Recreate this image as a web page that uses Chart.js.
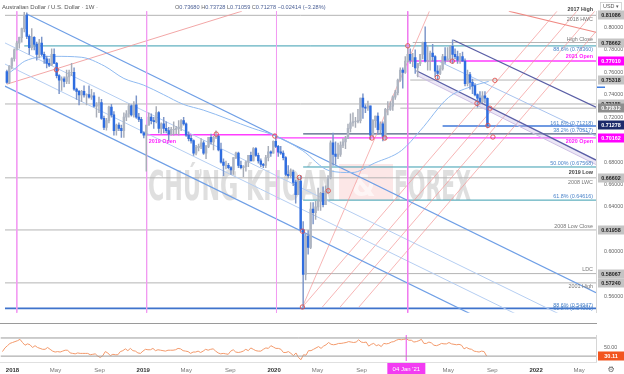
<!DOCTYPE html>
<html><head><meta charset="utf-8">
<script src="https://cdn.jsdelivr.net/npm/chart.js@4.4.1/dist/chart.umd.min.js"></script>
<style>
html,body{margin:0;padding:0;background:#fff;}
body{width:624px;height:374px;overflow:hidden;position:relative;}
#w1{position:absolute;left:0;top:0;width:624px;height:324px;}
#w2{position:absolute;left:0;top:324px;width:624px;height:50px;}
</style></head><body>
<div id="w1"><canvas id="c1"></canvas></div>
<div id="w2"><canvas id="c2"></canvas></div>
<script>
// ---------------- DATA ----------------
const firstWeek = '2017-12-04';
const open = [.7605,.7510,.7655,.7722,.7800,.7860,.7910,.7990,.8109,.7920,.7820,.7910,.7850,.7760,.7860,.7760,.7720,.7680,.7665,.7760,.7680,.7570,.7530,.7540,.7520,.7560,.7600,.7600,.7450,.7430,.7400,.7430,.7400,.7400,.7380,.7390,.7300,.7310,.7330,.7190,.7110,.7170,.7290,.7220,.7080,.7130,.7100,.7080,.7200,.7230,.7300,.7220,.7310,.7200,.7180,.7060,.7040,.7130,.7200,.7170,.7160,.7240,.7100,.7140,.7100,.7080,.7050,.7090,.7090,.7100,.7110,.7170,.7140,.7040,.7010,.6990,.6880,.6930,.6940,.6970,.6880,.6940,.7020,.6980,.7020,.7030,.6910,.6800,.6770,.6770,.6750,.6730,.6840,.6880,.6770,.6750,.6760,.6800,.6860,.6810,.6920,.6860,.6810,.6780,.6770,.6840,.6890,.6880,.6985,.6940,.6890,.6880,.6840,.6690,.6680,.6710,.6620,.6510,.6630,.6200,.5800,.6140,.6040,.6380,.6350,.6400,.6450,.6520,.6420,.6540,.6660,.6970,.6870,.6850,.6870,.6950,.6980,.7010,.7100,.7150,.7160,.7160,.7170,.7370,.7290,.7280,.7300,.7040,.7170,.7210,.7090,.7140,.7030,.7270,.7270,.7300,.7380,.7420,.7530,.7620,.7600,.7700,.7760,.7710,.7730,.7640,.7680,.7760,.7866,.7700,.7700,.7770,.7740,.7610,.7590,.7630,.7740,.7710,.7720,.7830,.7760,.7740,.7710,.7740,.7700,.7500,.7580,.7510,.7480,.7400,.7370,.7340,.7390,.7368];
const high = [.7620,.7660,.7730,.7810,.7880,.7915,.7995,.8136,.8130,.7935,.7990,.7920,.7870,.7895,.7915,.7780,.7745,.7720,.7810,.7810,.7690,.7580,.7560,.7560,.7620,.7620,.7680,.7640,.7460,.7440,.7440,.7480,.7410,.7480,.7450,.7420,.7330,.7380,.7360,.7210,.7190,.7300,.7315,.7250,.7140,.7150,.7130,.7240,.7260,.7320,.7310,.7340,.7390,.7235,.7200,.7070,.7060,.7240,.7230,.7200,.7295,.7250,.7150,.7200,.7160,.7110,.7110,.7160,.7120,.7170,.7180,.7200,.7150,.7070,.7040,.7000,.6950,.6960,.7010,.6990,.6950,.7020,.7050,.7030,.7080,.7040,.6970,.6830,.6810,.6790,.6760,.6840,.6890,.6890,.6810,.6770,.6810,.6860,.6890,.6930,.6930,.6880,.6830,.6790,.6860,.6940,.6900,.6990,.7032,.6950,.6940,.6900,.6850,.6770,.6740,.6730,.6640,.6660,.6680,.6270,.6160,.6190,.6440,.6440,.6450,.6570,.6530,.6580,.6590,.6680,.6990,.7060,.6980,.6970,.6980,.7010,.7030,.7140,.7230,.7240,.7200,.7270,.7370,.7410,.7310,.7345,.7300,.7180,.7210,.7240,.7160,.7160,.7280,.7340,.7340,.7390,.7440,.7540,.7640,.7640,.7740,.7820,.7810,.7770,.7800,.7680,.7760,.7870,.8007,.7840,.7790,.7850,.7750,.7660,.7660,.7760,.7820,.7820,.7840,.7891,.7810,.7790,.7770,.7780,.7720,.7620,.7600,.7540,.7500,.7410,.7430,.7430,.7430,.73728];
const low = [.7501,.7500,.7630,.7700,.7800,.7815,.7870,.7960,.7900,.7760,.7800,.7800,.7710,.7730,.7750,.7680,.7640,.7650,.7660,.7680,.7550,.7410,.7440,.7470,.7500,.7500,.7570,.7440,.7360,.7310,.7340,.7380,.7310,.7370,.7360,.7290,.7200,.7240,.7180,.7090,.7085,.7150,.7200,.7040,.7040,.7080,.7020,.7020,.7170,.7200,.7210,.7200,.7190,.7160,.7060,.7015,.6720,.7130,.7140,.7100,.7150,.7060,.7050,.7060,.7060,.6990,.7040,.7040,.7050,.7040,.7080,.7130,.7030,.6990,.6970,.6860,.6865,.6900,.6920,.6870,.6830,.6930,.6960,.6910,.7010,.6900,.6790,.6680,.6740,.6740,.6690,.6690,.6830,.6750,.6740,.6670,.6720,.6760,.6810,.6810,.6850,.6790,.6760,.6750,.6750,.6810,.6850,.6880,.6930,.6850,.6870,.6820,.6680,.6660,.6660,.6590,.6435,.6510,.6210,.5506,.5750,.5980,.6030,.6250,.6290,.6370,.6370,.6400,.6420,.6520,.6650,.6770,.6780,.6830,.6850,.6930,.6920,.7010,.7070,.7120,.7110,.7150,.7150,.7190,.7240,.7260,.7000,.7030,.7110,.7050,.7060,.6990,.7000,.7220,.7260,.7260,.7360,.7400,.7520,.7460,.7590,.7690,.7680,.7650,.7590,.7560,.7660,.7720,.7690,.7620,.7620,.7700,.7560,.7530,.7580,.7620,.7680,.7700,.7690,.7680,.7720,.7680,.7680,.7700,.7480,.7480,.7450,.7410,.7390,.7290,.7320,.7330,.7330,.71059];
const close = [.7510,.7655,.7722,.7800,.7860,.7910,.7990,.8109,.7920,.7820,.7910,.7850,.7760,.7860,.7760,.7720,.7680,.7665,.7760,.7680,.7570,.7530,.7540,.7520,.7560,.7600,.7600,.7450,.7430,.7400,.7430,.7400,.7400,.7380,.7390,.7300,.7310,.7330,.7190,.7110,.7170,.7290,.7220,.7080,.7130,.7100,.7080,.7200,.7230,.7300,.7220,.7310,.7200,.7180,.7060,.7040,.7130,.7200,.7170,.7160,.7240,.7100,.7140,.7100,.7080,.7050,.7090,.7090,.7100,.7110,.7170,.7140,.7040,.7010,.6990,.6880,.6930,.6940,.6970,.6880,.6940,.7020,.6980,.7020,.7030,.6910,.6800,.6770,.6770,.6750,.6730,.6840,.6880,.6770,.6750,.6760,.6800,.6860,.6810,.6920,.6860,.6810,.6780,.6770,.6840,.6890,.6880,.6985,.6940,.6890,.6880,.6840,.6690,.6680,.6710,.6620,.6510,.6630,.6200,.5800,.6140,.6040,.6380,.6350,.6400,.6450,.6520,.6420,.6540,.6660,.6970,.6870,.6850,.6870,.6950,.6980,.7010,.7100,.7150,.7160,.7160,.7170,.7370,.7290,.7280,.7300,.7040,.7170,.7210,.7090,.7140,.7030,.7270,.7270,.7300,.7380,.7420,.7530,.7620,.7600,.7700,.7760,.7710,.7730,.7640,.7680,.7760,.7866,.7700,.7700,.7770,.7740,.7610,.7590,.7630,.7740,.7710,.7720,.7830,.7760,.7740,.7710,.7740,.7700,.7500,.7580,.7510,.7480,.7400,.7370,.7340,.7390,.7370,.71278];
const rsi = [40,48,53,58,60,62,64,67,60,54, 57,55,49,53,49,47,45,45,49,45, 41,39,40,39,41,43,43,37,36,35, 37,36,36,36,36,33,34,35,30,27, 31,40,37,31,34,33,33,40,42,46, 42,47,42,41,37,36,41,45,44,44, 47,42,44,43,42,41,43,43,43,44, 47,46,42,41,40,36,39,39,41,38, 41,45,43,45,46,41,37,35,36,35, 34,41,44,39,38,39,41,45,42,48, 45,42,41,41,45,48,47,53,50,47, 47,45,38,38,40,36,31,37,27,22, 33,32,42,42,45,48,51,47,52,55, 60,56,55,56,58,58,59,60,62,61, 60,61,66,61,60,61,52,56,58,53, 55,51,58,57,58,61,62,65,67,66, 67,68,65,65,61,62,64,67,58,58, 61,59,54,53,55,58,57,57,60,57, 56,55,56,54,46,49,46,45,41,40, 39,41,40,30.11];

const priceTicks = [0.56,0.58,0.60,0.62,0.64,0.66,0.68,0.70,0.72,0.74,0.76,0.78,0.80];
const tickDates = ['2018-01-01','2018-05-01','2018-09-01','2019-01-01','2019-05-01','2019-09-01','2020-01-01','2020-05-01','2020-09-01','2021-05-01','2021-09-01','2022-01-01','2022-05-01'];
const tickLabels = ['2018','May','Sep','2019','May','Sep','2020','May','Sep','May','Sep','2022','May'];
const crossDate = '2021-01-04', crossLabel = "04 Jan '21";

// horizontal levels: price, start date, end date (null = to the right edge)
const levelPrice = [0.81086,0.78662,0.78360,0.77010,0.75318,0.73185,0.72812,0.71218,0.70517,0.70440,0.70162,0.67568,0.66602,0.64616,0.61958,0.58067,0.57240,0.54970];
const levelFrom  = ['2017-11-01','2021-01-18','2018-01-22','2021-01-04','2021-01-11','2017-11-01','2020-12-14','2021-04-12','2020-03-16','2019-01-01','2020-01-01','2020-03-16','2017-11-01','2020-03-16','2017-11-01','2020-03-16','2017-11-01','2017-11-01'];
const levelTo    = [null,null,null,null,null,null,null,null,null,'2020-01-01',null,null,null,null,null,null,null,null];
const levelKind  = ['g','g','t','m','g','g','g','b','s','m','m','t','g','t','g','g','g','b2'];

// right-side notes: text and price anchor
const noteText  = ['2017 High','2018 HWC','High Close','88.6% (0.78360)','2021 Open','161.8% (0.71218)','38.2% (0.70517)','2020 Open','50.00% (0.67568)','2019 Low','2008 LWC','61.8% (0.64616)','2008 Low Close','LDC','2001 High','88.6% (0.54947)','61.8% (0.54991)'];
const notePrice = [0.8163,0.80685,0.78973,0.78031,0.77432,0.71438,0.70839,0.69812,0.67842,0.67072,0.66216,0.64932,0.62277,0.58425,0.56884,0.55257,0.54914];
const noteKind  = ['d','g','g','f','m','f','f','m','f','d','g','f','g','g','g','f','f'];
const openNote = ['2019 Open', '2019-01-07', 0.69812];

// axis price boxes
const boxPrice = [0.81086,0.78662,0.77010,0.75318,0.73185,0.72812,0.71278,0.70162,0.66602,0.61958,0.58067,0.57240];
const boxKind  = ['g','g','m','g','g','dg','n','m','g','g','g','g'];
const rsiLast = 30.11;

// trend lines: [week1, price1, week2, price2]
const channel2018 = [[7.98,.81199,236.6,.56370],[-0.78,.78630,236.6,.52860],[-0.78,.76747,236.6,.50976],[-0.78,.74777,236.6,.49007]];
const channel2018Kind = ['o','i','i','o'];
const riseLine2017 = [0,.74949,94.4,.81455];
const channel2021 = [[179.3,.78887,236.6,.72894],[173.3,.77003,236.6,.70325],[164.5,.76147,236.6,.68185]];
const band2021 = [164.5,.75747,236.6,.67785];
const redTop = [201.6,.81455,236.6,.79572];
const rise2020 = [[118.7,.5509,220.96,.81455],[126.7,.5509,228.9,.81455],[133.85,.5509,236.1,.81455],[141.4,.5509,236.6,.7964],[118.7,.5509,169.7,.81455]];

// moving average
const maWeek  = [0,3.2,7.2,19.1,29.9,39.1,47,55,63,70.9,78.9,98.8,108,118.7,129.5,138.6,147.8,158.5,166,177.3,186,193.5];
const maPrice = [.758,.7632,.7700,.7743,.7735,.7658,.7546,.7486,.7401,.7315,.7264,.7101,.7033,.6904,.6724,.6707,.6793,.6904,.7080,.7375,.7470,.7520];

// pivot circles
const pivW = [19.9,84.1,107.6,117.5,118.7,118.7,129.1,146.6,151.8,161,178.9,172.9,196,188.8,194,193.2,195.2];
const pivP = [.7623,.7050,.7033,.6664,.6185,.5509,.6545,.7015,.7015,.7837,.7700,.7555,.7529,.7324,.7281,.7127,.7024];

const vLines = ['2018-01-01','2019-01-01','2020-01-01'];

// ---------------- HELPERS ----------------
const t0 = Date.parse(firstWeek+'T00:00:00Z');
const wk = d => (Date.parse(d+'T00:00:00Z') - t0) / (7*86400000);
const XMIN = -0.78, XMAX = 236.6;
const FONT = "'Liberation Sans', Arial, sans-serif";

const up = close.map((c,i)=> c >= open[i]);
const BLUE = '#2f6de0', GREYC = '#aeb5c2';

function seg(a, color, width, order, extra){
  return Object.assign({type:'line', data:[{x:a[0],y:a[1]},{x:a[2],y:a[3]}], borderColor:color, borderWidth:width, pointRadius:0, fill:false, tension:0, order:order}, extra||{});
}
const levelStyle = {g:['#b4b4b4',1],t:['#3a9db0',1],m:['#ff3cff',1.4],b:['#3f78d8',1.4],s:['#4d5f82',1.4],b2:['#3f73cc',1.6]};

const ds = [];
levelPrice.forEach((p,i)=>{
  const st = levelStyle[levelKind[i]];
  const x1 = Math.max(XMIN, wk(levelFrom[i]));
  const x2 = levelTo[i] ? wk(levelTo[i]) : XMAX;
  ds.push(seg([x1,p,x2,p], st[0], st[1], 30));
});
channel2018.forEach((a,i)=> ds.push(seg(a, channel2018Kind[i]==='o' ? '#6f9fe6' : '#b5cef2', channel2018Kind[i]==='o'?1.2:1, 29)));
ds.push(seg(riseLine2017, 'rgba(240,150,150,0.85)', 1, 29));
ds.push(seg(redTop, '#f08a84', 1.1, 29));
rise2020.forEach(a=> ds.push(seg(a, 'rgba(244,150,150,0.7)', 1, 29)));
ds.push(seg(channel2021[0], '#5a5fa6', 1.3, 28));
ds.push(seg(channel2021[1], '#a9c3ee', 1, 28));
ds.push(seg(channel2021[2], '#5a5fa6', 1.3, 28));
ds.push(seg(band2021, '#cdbfe3', 1, 28, {fill:'-1', backgroundColor:'rgba(200,185,230,0.35)'}));
vLines.forEach(d=> ds.push(seg([wk(d),0.9,wk(d),0.4], '#f29bf2', 1, 27)));
ds.push(seg([wk(crossDate),0.9,wk(crossDate),0.4], '#f07cf0', 1, 27));
ds.push({type:'line', data: maWeek.map((w,i)=>({x:w,y:maPrice[i]})), borderColor:'#8fbaf0', borderWidth:1, pointRadius:0, tension:0.4, cubicInterpolationMode:'monotone', fill:false, order:26});
// candles
ds.push({type:'bar', data: close.map((c,i)=>({x:i, y:[low[i],high[i]]})), backgroundColor: up.map(u=> u ? '#a8adb8' : '#7b95c9'), barThickness:0.8, grouped:false, order:6});
ds.push({type:'bar', data: close.map((c,i)=>({x:i, y:[Math.min(open[i],c), Math.max(open[i],c)+0.00015]})), backgroundColor: up.map(u=> u ? GREYC : BLUE), barThickness:1.8, grouped:false, order:5});
// pivots
ds.push({type:'line', showLine:false, data: pivW.map((w,i)=>({x:w,y:pivP[i]})), pointRadius:2.2, pointBorderColor:'#e0524f', pointBackgroundColor:'rgba(255,255,255,0)', pointBorderWidth:0.9, order:1});

// ---------------- PLUGINS ----------------
const mainOverlay = {
  id:'mainOverlay',
  beforeDatasetsDraw(chart){
    const ctx = chart.ctx;
    ctx.save();
    ctx.fillStyle = 'rgba(244,170,170,0.28)';
    ctx.fillRect(339,164,54,36);
    ctx.fillStyle = 'rgba(255,255,255,0.6)';
    ctx.font = "bold 30px 'DejaVu Sans Condensed', 'DejaVu Sans', sans-serif";
    ctx.fillText('&', 352, 196);
    ctx.fillStyle = 'rgba(185,185,185,0.45)';
    ctx.font = "bold 40px 'DejaVu Sans Condensed', 'DejaVu Sans', sans-serif";
    ctx.textBaseline = 'alphabetic';
    const drawFit = (t, x, w) => { const m = ctx.measureText(t).width; ctx.save(); ctx.translate(x,200); ctx.scale(w/m, 1); ctx.fillText(t,0,0); ctx.restore(); };
    drawFit('CHỨNG KHOÁN', 148, 188);
    drawFit('FOREX', 394, 77);
    ctx.restore();
  },
  afterDraw(chart){
    const ctx = chart.ctx, y = chart.scales.y, x = chart.scales.x;
    ctx.save();
    ctx.textAlign = 'right'; ctx.textBaseline = 'middle';
    const noteCol = {d:'#444',g:'#777',f:'#4a83c9',m:'#ff1fff'};
    noteText.forEach((t,i)=>{
      const k = noteKind[i];
      ctx.font = ((k==='d'||k==='m')?'bold ':'') + "5.4px " + FONT;
      ctx.fillStyle = noteCol[k];
      ctx.fillText(t, 593, y.getPixelForValue(notePrice[i]));
    });
    ctx.textAlign = 'left';
    ctx.font = "bold 5.4px " + FONT; ctx.fillStyle = '#ff1fff';
    ctx.fillText(openNote[0], x.getPixelForValue(wk(openNote[1])), y.getPixelForValue(openNote[2]));
    const boxCol = {g:['#c4c4c4','#222'],dg:['#8e8e8e','#fff'],m:['#ff00ff','#fff'],n:['#1c2a6b','#fff']};
    ctx.textAlign = 'center';
    boxPrice.forEach((p,i)=>{
      const c = boxCol[boxKind[i]];
      const py = Math.round(y.getPixelForValue(p));
      ctx.fillStyle = c[0]; ctx.fillRect(598, py-4.5, 26, 9);
      ctx.fillStyle = c[1]; ctx.font = "bold 5.4px " + FONT;
      ctx.fillText(p.toFixed(5), 611, py+0.3);
    });
    ctx.fillStyle = '#3f7de0'; ctx.fillRect(597, 86.5, 8, 1.5);
    ctx.fillStyle = '#fff'; ctx.strokeStyle = '#ccc'; ctx.lineWidth = 0.8;
    ctx.fillRect(600,2,22,9); ctx.strokeRect(600.5,2.5,21,8);
    ctx.fillStyle = '#555'; ctx.font = "5.4px " + FONT; ctx.fillText('USD ▾', 611, 6.8);
    ctx.textAlign = 'left';
    ctx.font = "6px " + FONT; ctx.fillStyle = '#555';
    ctx.fillText('Australian Dollar / U.S. Dollar · 1W ·', 2, 7);
    const parts = [['O','#666'],['0.73680','#4a5f95'],[' H','#666'],['0.73728','#4a5f95'],[' L','#666'],['0.71059','#4a5f95'],[' C','#666'],['0.71278','#4a5f95'],[' −0.02414 (−3.28%)','#4a5f95']];
    let px = 175;
    ctx.font = "5.6px " + FONT;
    parts.forEach(p=>{ ctx.fillStyle = p[1]; ctx.fillText(p[0], px, 7); px += ctx.measureText(p[0]).width; });
    ctx.fillStyle = '#9a9a9a'; ctx.fillRect(0, 323, 597, 1);
    ctx.restore();
  }
};

const rsiOverlay = {
  id:'rsiOverlay',
  afterDraw(chart){
    const ctx = chart.ctx, y = chart.scales.y, x = chart.scales.x;
    ctx.save();
    const py = Math.round(y.getPixelForValue(rsiLast));
    ctx.fillStyle = '#f2551f'; ctx.fillRect(598, py-4.5, 26, 9);
    ctx.fillStyle = '#fff'; ctx.font = "bold 5.6px " + FONT; ctx.textAlign='center'; ctx.textBaseline='middle';
    ctx.fillText(rsiLast.toFixed(2), 611, py+0.3);
    const cx = x.getPixelForValue(wk(crossDate));
    ctx.fillStyle = '#f23cf2'; ctx.fillRect(cx-19, 39, 38, 11);
    ctx.fillStyle = '#fff'; ctx.font = "6px " + FONT;
    ctx.fillText(crossLabel, cx, 45.5);
    ctx.fillStyle = '#666'; ctx.font = "8px 'DejaVu Sans', sans-serif";
    ctx.fillText('⚙', 611, 45.5);
    ctx.fillStyle = '#e0e0e0'; ctx.fillRect(0, chart.chartArea.bottom+1, 597, 1);
    ctx.restore();
  }
};

// ---------------- CHARTS ----------------
Chart.defaults.font.family = FONT;
const yFit = s => { s.width = 28; };

new Chart(document.getElementById('c1'), {
  type:'bar',
  data:{datasets: ds},
  options:{
    responsive:true, maintainAspectRatio:false, animation:false, devicePixelRatio:1,
    layout:{padding:{top:10,left:0,right:0,bottom:0}},
    plugins:{legend:{display:false}, tooltip:{enabled:false}},
    scales:{
      x:{type:'linear', min:XMIN, max:XMAX, display:false, offset:false},
      y:{position:'right', min:0.54572, max:0.81455,
         afterBuildTicks: s => { s.ticks = priceTicks.map(v=>({value:v})); },
         afterFit: yFit,
         grid:{display:false, drawTicks:false},
         border:{display:true, color:'#d6d6d6'},
         ticks:{padding:8, color:'#666', font:{size:5.3}, callback: v => Number(v).toFixed(5)}}
    }
  },
  plugins:[mainOverlay]
});

new Chart(document.getElementById('c2'), {
  type:'line',
  data:{datasets:[
    {data:[{x:XMIN,y:70},{x:XMAX,y:70}], borderColor:'#9b9b9b', borderWidth:1, pointRadius:0},
    {data:[{x:XMIN,y:30},{x:XMAX,y:30}], borderColor:'#9b9b9b', borderWidth:1, pointRadius:0},
    {data:[{x:wk(crossDate),y:100},{x:wk(crossDate),y:0}], borderColor:'#f07cf0', borderWidth:1, pointRadius:0},
    {data: rsi.map((v,i)=>({x:i,y:v})), borderColor:'#f39a6c', borderWidth:1, pointRadius:0, tension:0}
  ]},
  options:{
    responsive:true, maintainAspectRatio:false, animation:false, devicePixelRatio:1,
    layout:{padding:0},
    plugins:{legend:{display:false}, tooltip:{enabled:false}},
    scales:{
      x:{type:'linear', min:XMIN, max:XMAX, offset:false,
         afterBuildTicks: s => { s.ticks = tickDates.map(d=>({value:wk(d)})); },
         afterFit: s => { s.height = 13; },
         grid:{display:false, drawTicks:false}, border:{display:false},
         ticks:{autoSkip:false, maxRotation:0, padding:5.8,
           callback:(v,i)=> tickLabels[i],
           color: c => /^\d/.test(tickLabels[c.index]||'') ? '#333' : '#777',
           font: c => ({size:6, weight: /^\d/.test(tickLabels[c.index]||'') ? 'bold' : 'normal'})}},
      y:{position:'right', min:19.23, max:76.15,
         afterBuildTicks: s => { s.ticks = [{value:50}]; },
         afterFit: yFit,
         grid:{display:false, drawTicks:false}, border:{display:true, color:'#d6d6d6'},
         ticks:{padding:8, color:'#666', font:{size:5.3}, callback: v => Number(v).toFixed(2)}}
    }
  },
  plugins:[rsiOverlay]
});
</script>
</body></html>
